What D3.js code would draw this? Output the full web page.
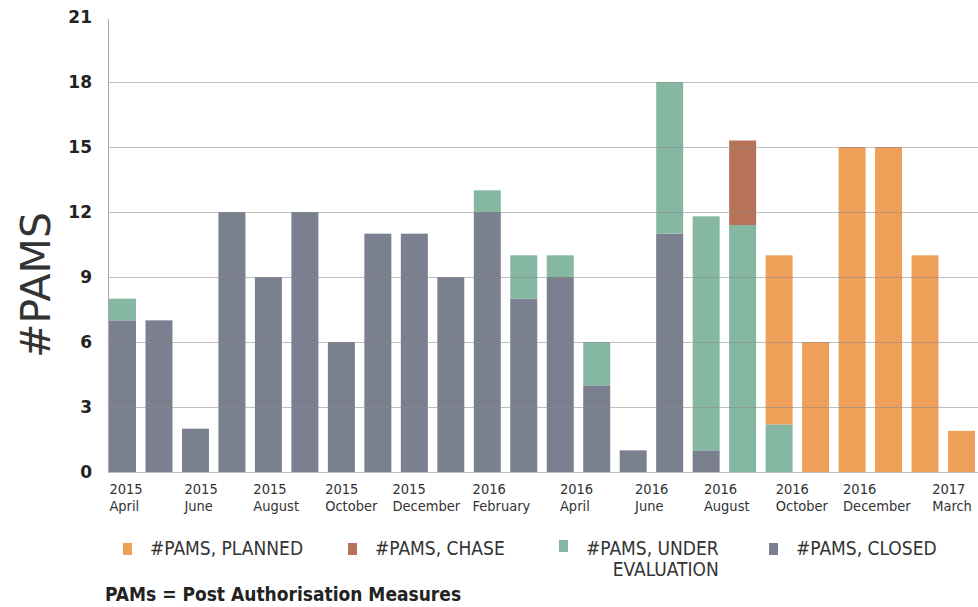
<!DOCTYPE html>
<html><head><meta charset="utf-8">
<script src="https://cdn.jsdelivr.net/npm/d3@7"></script>
<style>body{margin:0;background:#fff}svg{display:block}.cond{font-family:"DejaVu Sans",Verdana,sans-serif;font-stretch:condensed}</style>
</head><body>
<svg id="c" width="978" height="607"></svg>
<script>
const years  = ["2015","2015","2015","2015","2015","2015","2015","2015","2015","2016","2016","2016","2016","2016","2016","2016","2016","2016","2016","2016","2016","2017","2017","2017"];
const months = ["April","May","June","July","August","September","October","November","December","January","February","March","April","May","June","July","August","September","October","November","December","January","February","March"];
const closed   = [7,7,2,12,9,12,6,11,11,9,12,8,9,4,1,11,1,0,0,0,0,0,0,0];
const underEval= [1,0,0,0,0,0,0,0,0,0,1,2,1,2,0,7,10.8,11.4,2.2,0,0,0,0,0];
const chase    = [0,0,0,0,0,0,0,0,0,0,0,0,0,0,0,0,0,3.9,0,0,0,0,0,0];
const planned  = [0,0,0,0,0,0,0,0,0,0,0,0,0,0,0,0,0,0,7.8,6,15,15,10,1.9];
const yTicks = [0,3,6,9,12,15,18,21];
const xLabelYears  = ["2015","2015","2015","2015","2015","2016","2016","2016","2016","2016","2016","2017"];
const xLabelMonths = ["April","June","August","October","December","February","April","June","August","October","December","March"];
const colors = {"closed":"#7a808f","eval":"#86b7a2","chase":"#b6735a","planned":"#ee9f58"};

const svg = d3.select("#c");
const cats = months.map((m,i)=>i);
const x = d3.scaleBand().domain(cats).range([109,975]).paddingInner(0.26).paddingOuter(0);
const y = d3.scaleLinear().domain([0,21]).range([472,17]);

const rows = cats.map(i=>({i, closed:closed[i], eval:underEval[i], chase:chase[i], planned:planned[i]}));
const keys = ["closed","eval","chase","planned"];
const stack = d3.stack().keys(keys)(rows);

svg.append("g").selectAll("g").data(stack).join("g")
  .attr("fill", d=>colors[d.key])
  .selectAll("rect").data(d=>d).join("rect")
  .attr("x", d=>x(d.data.i))
  .attr("width", x.bandwidth())
  .attr("y", d=>y(d[1]))
  .attr("height", d=>Math.max(0, y(d[0])-y(d[1])));

// gridlines over bars
svg.append("g").selectAll("line").data(yTicks.filter(t=>t<21)).join("line")
  .attr("x1",108).attr("x2",978)
  .attr("y1",d=>y(d)+0.5).attr("y2",d=>y(d)+0.5)
  .attr("stroke","#8a8a8a").attr("stroke-opacity",0.55).attr("stroke-width",1.2);

// y axis line
svg.append("line").attr("x1",108.5).attr("x2",108.5).attr("y1",y(21)+2).attr("y2",y(0)+1)
  .attr("stroke","#aaa").attr("stroke-width",1);

// y tick labels
svg.append("g").selectAll("text").data(yTicks).join("text")
  .attr("x",92).attr("y",d=>y(d)).attr("dy","0.36em")
  .attr("text-anchor","end")
  .attr("font-family","DejaVu Sans, Verdana, sans-serif").attr("font-weight","bold")
  .attr("font-size",17).attr("fill","#222")
  .text(d=>d);

// y title
svg.append("text").attr("transform","translate(50,285) rotate(-90)")
  .attr("text-anchor","middle")
  .attr("font-family","DejaVu Sans, Verdana, sans-serif").attr("font-size",41).attr("fill","#333")
  .text("#PAMS");

// x labels: evenly spaced label blocks, lines left-aligned inside each block
const lx = d3.scalePoint().domain(d3.range(xLabelYears.length)).range([126,952]);
svg.append("g").selectAll("text").data(d3.range(xLabelYears.length)).join("text")
  .attr("class","cond").attr("font-size",14.5).attr("fill","#333")
  .each(function(i){
    const t=d3.select(this);
    const a=t.append("tspan").attr("y",494).text(xLabelYears[i]);
    const b=t.append("tspan").attr("y",511).text(xLabelMonths[i]);
    const w=Math.max(a.node().getComputedTextLength(), b.node().getComputedTextLength());
    const x0=lx(i)-w/2;
    a.attr("x",x0); b.attr("x",x0);
  });

// legend
const legend = [
  {key:"planned", label:["#PAMS, PLANNED"], x:123, sy:543},
  {key:"chase", label:["#PAMS, CHASE"], x:348, sy:543},
  {key:"eval", label:["#PAMS, UNDER","EVALUATION"], x:559, sy:540},
  {key:"closed", label:["#PAMS, CLOSED"], x:769, sy:543}
];
const lg = svg.append("g").selectAll("g").data(legend).join("g");
lg.append("rect").attr("x",d=>d.x).attr("y",d=>d.sy).attr("width",9).attr("height",12).attr("fill",d=>colors[d.key]);
lg.append("text").attr("class","cond")
  .attr("font-size",19).attr("fill","#333")
  .each(function(d){
    const t=d3.select(this);
    const a=t.append("tspan").attr("x",d.x+27).attr("y",555).text(d.label[0]);
    if(d.label[1]){
      const right = d.x+27+a.node().getComputedTextLength();
      t.append("tspan").attr("x",right).attr("text-anchor","end").attr("y",576).text(d.label[1]);
    }
  });

svg.append("text").attr("x",105).attr("y",601)
  .attr("class","cond").attr("font-weight","bold")
  .attr("font-size",19).attr("fill","#222")
  .text("PAMs = Post Authorisation Measures");
</script>
</body></html>
